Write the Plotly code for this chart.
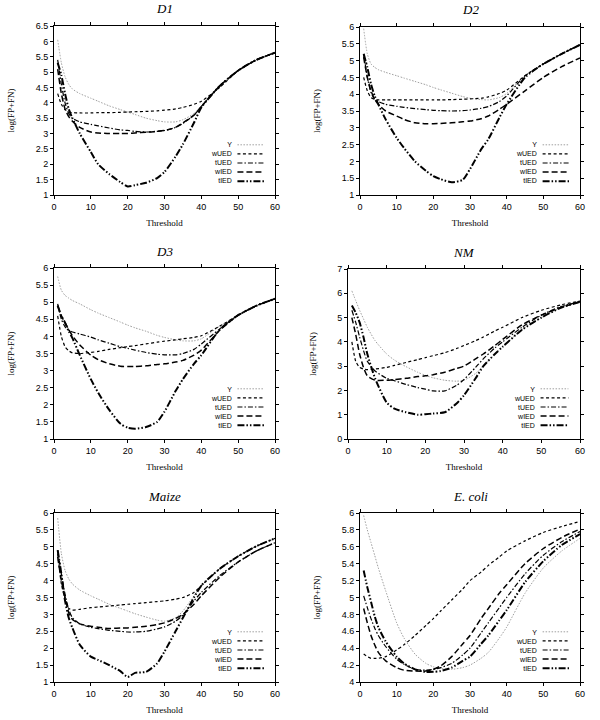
import plotly.graph_objects as go

X = [1, 2, 3, 4, 5, 7, 10, 12, 15, 18, 20, 22, 25, 28, 30, 33, 35, 38, 40, 45, 50, 55, 60]
SERIES = ["Y", "wUED", "tUED", "wIED", "tIED"]
PANELS = ["D1", "D2", "D3", "NM", "Maize", "E. coli"]

D1_Y    = [6.05, 5.3, 4.85, 4.6, 4.45, 4.3, 4.15, 4.05, 3.9, 3.78, 3.7, 3.62, 3.5, 3.42, 3.38, 3.38, 3.45, 3.65, 3.9, 4.55, 5.05, 5.4, 5.63]
D1_wUED = [4.3, 3.95, 3.78, 3.7, 3.68, 3.67, 3.67, 3.68, 3.68, 3.69, 3.7, 3.71, 3.72, 3.74, 3.76, 3.8, 3.85, 3.95, 4.05, 4.5, 5.05, 5.4, 5.63]
D1_tUED = [5.4, 4.6, 4.0, 3.65, 3.5, 3.38, 3.3, 3.25, 3.18, 3.12, 3.1, 3.07, 3.05, 3.07, 3.1, 3.2, 3.33, 3.6, 3.88, 4.55, 5.05, 5.4, 5.63]
D1_wIED = [5.1, 4.3, 3.8, 3.55, 3.4, 3.2, 3.05, 3.02, 3.0, 3.0, 3.0, 3.02, 3.04, 3.07, 3.1, 3.2, 3.35, 3.6, 3.88, 4.55, 5.05, 5.4, 5.63]
D1_tIED = [5.3, 4.9, 4.3, 3.8, 3.5, 3.0, 2.4, 2.0, 1.68, 1.42, 1.28, 1.32, 1.4, 1.55, 1.75, 2.25, 2.65, 3.35, 3.85, 4.55, 5.05, 5.4, 5.63]

D2_Y    = [5.95, 5.2, 4.9, 4.8, 4.73, 4.65, 4.55, 4.48, 4.38, 4.28, 4.2, 4.13, 4.03, 3.93, 3.88, 3.84, 3.83, 3.9, 4.02, 4.55, 4.9, 5.2, 5.47]
D2_wUED = [4.5, 4.1, 3.9, 3.85, 3.83, 3.83, 3.83, 3.83, 3.83, 3.83, 3.83, 3.83, 3.84, 3.85, 3.86, 3.88, 3.92, 4.02, 4.12, 4.55, 4.9, 5.2, 5.47]
D2_tUED = [5.2, 4.5, 4.05, 3.85, 3.78, 3.7, 3.64, 3.61, 3.57, 3.54, 3.52, 3.51, 3.5, 3.51, 3.53, 3.58, 3.63, 3.78, 3.95, 4.55, 4.9, 5.2, 5.47]
D2_wIED = [5.1, 4.5, 4.1, 3.85, 3.7, 3.5, 3.35, 3.25, 3.15, 3.12, 3.12, 3.13, 3.15, 3.18, 3.2, 3.27, 3.35, 3.55, 3.7, 4.1, 4.5, 4.82, 5.08]
D2_tIED = [5.2, 4.8, 4.3, 3.95, 3.7, 3.25, 2.7, 2.4, 2.0, 1.72, 1.56, 1.47, 1.38, 1.45, 1.77, 2.35, 2.66, 3.3, 3.7, 4.5, 4.9, 5.2, 5.47]

D3_Y    = [5.75, 5.35, 5.2, 5.12, 5.05, 4.95, 4.78, 4.68, 4.55, 4.42, 4.33, 4.25, 4.15, 4.03, 3.97, 3.9, 3.87, 3.87, 3.93, 4.3, 4.62, 4.9, 5.1]
D3_wUED = [4.6, 4.0, 3.7, 3.58, 3.52, 3.5, 3.53, 3.56, 3.62, 3.67, 3.7, 3.73, 3.78, 3.83, 3.86, 3.9, 3.93, 3.97, 4.02, 4.3, 4.62, 4.9, 5.1]
D3_tUED = [4.95, 4.5, 4.28, 4.18, 4.13, 4.07, 3.98, 3.9, 3.8, 3.7, 3.65, 3.6, 3.53, 3.48, 3.46, 3.46, 3.5, 3.62, 3.78, 4.22, 4.62, 4.9, 5.1]
D3_wIED = [4.9, 4.6, 4.4, 4.2, 4.02, 3.75, 3.45, 3.32, 3.2, 3.13, 3.12, 3.12, 3.14, 3.18, 3.2, 3.25, 3.3, 3.45, 3.6, 4.18, 4.62, 4.9, 5.1]
D3_tIED = [4.9, 4.6, 4.4, 4.15, 3.95, 3.45, 2.75, 2.35, 1.85, 1.45, 1.33, 1.3, 1.35, 1.5, 1.8, 2.4, 2.75, 3.2, 3.45, 4.2, 4.62, 4.9, 5.1]

NM_Y    = [6.1, 5.7, 5.3, 4.95, 4.6, 4.05, 3.5, 3.25, 2.98, 2.75, 2.62, 2.52, 2.42, 2.38, 2.42, 2.7, 3.0, 3.5, 3.8, 4.5, 5.0, 5.4, 5.65]
NM_wUED = [4.0, 3.2, 2.95, 2.88, 2.86, 2.88, 2.95, 3.03, 3.15, 3.27, 3.35, 3.43, 3.55, 3.72, 3.85, 4.05, 4.2, 4.45, 4.6, 5.0, 5.3, 5.52, 5.68]
NM_tUED = [5.3, 4.8, 4.2, 3.65, 3.2, 2.8, 2.5, 2.4, 2.25, 2.12, 2.05, 1.98, 1.98, 2.2, 2.45, 2.95, 3.3, 3.75, 4.0, 4.6, 5.1, 5.45, 5.65]
NM_wIED = [5.0, 4.3, 3.5, 2.95, 2.6, 2.42, 2.42, 2.45, 2.5, 2.57, 2.6, 2.65, 2.75, 2.9, 3.0, 3.3, 3.5, 3.85, 4.1, 4.7, 5.1, 5.42, 5.65]
NM_tIED = [5.5, 5.2, 4.8, 4.2, 3.5, 2.5, 1.5, 1.25, 1.1, 1.0, 1.02, 1.05, 1.1, 1.45, 1.8, 2.5, 3.0, 3.5, 3.8, 4.5, 5.0, 5.4, 5.65]

MZ_Y    = [5.85, 4.8, 4.3, 4.05, 3.9, 3.72, 3.55, 3.45, 3.3, 3.18, 3.1, 3.02, 2.92, 2.83, 2.8, 2.9, 3.1, 3.55, 3.85, 4.35, 4.72, 5.02, 5.25]
MZ_wUED = [4.8, 3.9, 3.45, 3.18, 3.13, 3.15, 3.2, 3.22, 3.25, 3.28, 3.3, 3.32, 3.35, 3.38, 3.4, 3.45, 3.5, 3.65, 3.85, 4.35, 4.72, 5.02, 5.25]
MZ_tUED = [4.9, 4.2, 3.6, 3.15, 2.9, 2.72, 2.62, 2.58, 2.53, 2.5, 2.48, 2.48, 2.5, 2.57, 2.63, 2.8, 2.98, 3.4, 3.65, 4.15, 4.55, 4.88, 5.12]
MZ_wIED = [4.7, 4.0, 3.5, 3.05, 2.85, 2.72, 2.65, 2.62, 2.58, 2.6, 2.6, 2.62, 2.65, 2.7, 2.75, 2.88, 3.0, 3.3, 3.55, 4.1, 4.55, 4.88, 5.12]
MZ_tIED = [4.9, 4.2, 3.4, 2.9, 2.6, 2.1, 1.75, 1.65, 1.5, 1.32, 1.15, 1.27, 1.3, 1.55, 1.9, 2.5, 2.9, 3.5, 3.85, 4.35, 4.72, 5.02, 5.25]

EC_Y    = [5.97, 5.8, 5.65, 5.5, 5.35, 5.08, 4.7, 4.52, 4.33, 4.22, 4.18, 4.16, 4.15, 4.17, 4.2, 4.28, 4.35, 4.52, 4.65, 5.05, 5.35, 5.55, 5.7]
EC_wUED = [4.33, 4.3, 4.28, 4.28, 4.28, 4.3, 4.38, 4.44, 4.55, 4.67, 4.75, 4.84, 4.97, 5.1, 5.2, 5.3, 5.38, 5.48, 5.55, 5.67, 5.77, 5.84, 5.9]
EC_tUED = [5.02, 4.88, 4.75, 4.64, 4.55, 4.42, 4.27, 4.21, 4.15, 4.14, 4.15, 4.17, 4.22, 4.32, 4.4, 4.58, 4.7, 4.88, 5.0, 5.28, 5.5, 5.66, 5.78]
EC_wIED = [4.87, 4.7, 4.55, 4.44, 4.35, 4.25, 4.17, 4.14, 4.13, 4.13, 4.15, 4.19, 4.3, 4.45, 4.55, 4.75, 4.87, 5.05, 5.15, 5.4, 5.58, 5.71, 5.81]
EC_tIED = [5.32, 5.12, 4.95, 4.78, 4.65, 4.48, 4.3, 4.22, 4.15, 4.12, 4.12, 4.13, 4.17, 4.25, 4.3, 4.45, 4.55, 4.73, 4.85, 5.18, 5.43, 5.62, 5.75]

DATA = [
    [D1_Y, D1_wUED, D1_tUED, D1_wIED, D1_tIED],
    [D2_Y, D2_wUED, D2_tUED, D2_wIED, D2_tIED],
    [D3_Y, D3_wUED, D3_tUED, D3_wIED, D3_tIED],
    [NM_Y, NM_wUED, NM_tUED, NM_wIED, NM_tIED],
    [MZ_Y, MZ_wUED, MZ_tUED, MZ_wIED, MZ_tIED],
    [EC_Y, EC_wUED, EC_tUED, EC_wIED, EC_tIED],
]
YRANGES = [(1, 6.5, 0.5), (1, 6, 0.5), (1, 6, 0.5), (0, 7, 1), (1, 6, 0.5), (4, 6, 0.2)]

W, H = 600, 720
# plot-area pixel boxes (left, right, top, bottom)
BOXES = [(54, 275, 26, 195), (360, 580, 27, 195),
         (54, 275, 268, 439), (348, 580, 269, 439),
         (54, 275, 513, 682), (360, 580, 513, 682)]

STYLES = [
    dict(color="#a0a0a0", width=1.0, dash="1.5px,1.5px"),
    dict(color="black", width=1.2, dash="3px,2.5px"),
    dict(color="black", width=1.2, dash="5px,2px,1.5px,2px"),
    dict(color="black", width=1.5, dash="6px,3px"),
    dict(color="black", width=2.0, dash="7px,2px,1.5px,2px,1.5px,2px"),
]

LEG_FONT = 7
LEG_STEP = LEG_FONT * 1.3   # plotly multi-line spacing (px)
LEG_CENTER = 32             # px above plot bottom

fig = go.Figure()
SANS = "Liberation Sans, Arial, sans-serif"
SERIF = "Liberation Serif, Times New Roman, serif"

for i, (name, curves) in enumerate(zip(PANELS, DATA)):
    n = "" if i == 0 else str(i + 1)
    xa, ya = "x" + n, "y" + n
    l, r, t, b = BOXES[i]
    ph = b - t
    for s, (sname, vals) in enumerate(zip(SERIES, curves)):
        fig.add_trace(go.Scatter(x=X, y=vals, mode="lines", name=sname, xaxis=xa, yaxis=ya,
                                 line=dict(shape="spline", smoothing=0.6, **STYLES[s]),
                                 showlegend=False))
    lo, hi, dt = YRANGES[i]
    axcommon = dict(showline=True, linecolor="black", linewidth=1, mirror="ticks", ticks="outside",
                    ticklen=3, tickcolor="black", showgrid=False, zeroline=False, automargin=False,
                    tickfont=dict(family=SANS, size=9, color="black"))
    fig.layout["xaxis" + n] = dict(domain=[l / W, r / W], range=[0, 60], dtick=10, tick0=0,
                                   anchor=ya,
                                   title=dict(text="Threshold", font=dict(family=SERIF, size=9, color="black"), standoff=8),
                                   **axcommon)
    fig.layout["yaxis" + n] = dict(domain=[1 - b / H, 1 - t / H], range=[lo, hi], dtick=dt, tick0=lo,
                                   anchor=xa,
                                   title=dict(text="log(FP+FN)", font=dict(family=SERIF, size=9, color="black"), standoff=19),
                                   **axcommon)
    fig.add_annotation(text="<i>%s</i>" % name, xref=xa + " domain", yref=ya + " domain",
                       x=0.5, y=1.0, yshift=17, xanchor="center", yanchor="middle", showarrow=False,
                       font=dict(family=SERIF, size=13, color="black"))
    # legend block: text right-aligned, line sample to its right
    cy = LEG_CENTER / ph
    fig.add_annotation(text="<br>".join(SERIES), xref=xa + " domain", yref=ya + " domain",
                       x=0.81, y=cy, xanchor="right", yanchor="middle", align="right",
                       showarrow=False, borderpad=0,
                       font=dict(family=SANS, size=LEG_FONT, color="black"))
    for s in range(len(SERIES)):
        yy = (LEG_CENTER + (2 - s) * LEG_STEP) / ph
        fig.add_shape(type="line", xref=xa + " domain", yref=ya + " domain",
                      x0=0.83, x1=0.95, y0=yy, y1=yy, line=STYLES[s])

fig.update_layout(width=W, height=H, margin=dict(l=0, r=0, t=0, b=0, autoexpand=False),
                  paper_bgcolor="white", plot_bgcolor="white", showlegend=False)
fig.write_html("out.html", config={"displayModeBar": False},
               post_script="document.body.style.margin='0';document.body.style.overflow='hidden';")
